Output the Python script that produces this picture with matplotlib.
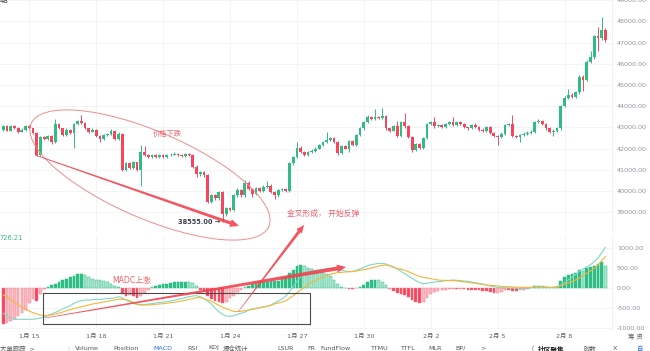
import matplotlib

matplotlib.use("Agg")
import matplotlib.pyplot as plt
import numpy as np
from matplotlib.patches import Ellipse, Polygon, Rectangle

plt.rcParams["font.family"] = ["DejaVu Sans", "Noto Sans CJK SC"]

# 4h candles, first one on Jan 13 20:00; x axis counts days from Jan 15 00:00
FIRST_DAY = -7 / 6
FIRST_OPEN = 42900
CLOSES = [
    43050, 42850, 43050, 42950, 42800, 42900, 43050, 42950, 42750, 41700,
    42550, 42450, 42600, 42300, 43150, 42950, 42650, 42900, 42750, 43150,
    43300, 43200, 42950, 42800, 42900, 42600, 42450, 42650, 42700, 42850,
    42450, 42700, 41000, 41300, 41100, 41350, 41000, 41850, 41700, 41600,
    41700, 41620, 41680, 41600, 41680, 41720, 41760, 41700, 41660, 41730,
    41700, 41150, 40800, 40900, 40750, 39500, 39800, 39650, 39950, 38900,
    39200, 39100, 39800, 40050, 39800, 40400, 40100, 39850, 40150, 40000,
    40200, 40250, 39950, 39800, 40050, 40100, 40000, 41300, 41600, 42050,
    41850, 41700, 41850, 41900, 42000, 42150, 42300, 42400, 42500, 42300,
    41800, 42100, 42000, 42350, 42150, 42650, 42950, 43250, 43500, 43400,
    43500, 43450, 43550, 42950, 42850, 43050, 42600, 43250, 43050, 42550,
    41950, 42200, 42050, 42500, 43150, 43250, 43050, 43100, 43000, 43150,
    43250, 43100, 43250, 43150, 43000, 42950, 43100, 43000, 42900, 42850,
    43000, 42750, 42600, 42550, 42700, 43100, 43150, 42600, 42550, 42650,
    42700, 42750, 42800, 43250, 43300, 43150, 42950, 42800, 42850, 42950,
    44000, 44400, 44550, 44450, 44650, 45400, 45250, 46100, 46300, 47300,
    47200, 47600, 47100,
]
UPPER_WICK = [
    60, 50, 80, 60, 50, 60, 70, 50, 40, 40,
    60, 50, 60, 50, 250, 60, 40, 60, 40, 50,
    50, 300, 40, 40, 50, 40, 40, 60, 50, 60,
    40, 60, 40, 50, 50, 60, 40, 300, 250, 60,
    60, 50, 60, 50, 60, 50, 80, 50, 40, 60,
    50, 40, 60, 60, 60, 40, 60, 60, 60, 40,
    60, 60, 60, 80, 60, 100, 60, 60, 60, 60,
    60, 200, 60, 40, 60, 60, 60, 60, 60, 250,
    60, 60, 60, 60, 60, 60, 60, 400, 60, 60,
    40, 60, 50, 60, 50, 60, 60, 60, 100, 60,
    350, 60, 350, 50, 60, 60, 250, 60, 450, 60,
    60, 60, 60, 60, 60, 60, 250, 50, 50, 50,
    60, 250, 50, 50, 50, 40, 50, 100, 50, 50,
    50, 50, 50, 50, 60, 60, 60, 450, 60, 60,
    60, 60, 60, 60, 100, 60, 60, 60, 60, 60,
    60, 60, 250, 60, 60, 60, 60, 60, 300, 60,
    450, 600, 100,
]
LOWER_WICK = [
    50, 40, 40, 40, 60, 40, 50, 40, 60, 60,
    40, 50, 40, 60, 50, 40, 60, 40, 50, 700,
    40, 40, 40, 50, 40, 60, 150, 40, 40, 40,
    60, 40, 60, 50, 60, 40, 60, 750, 50, 60,
    50, 60, 40, 50, 40, 40, 40, 40, 50, 40,
    40, 60, 150, 100, 80, 60, 80, 60, 60, 345,
    80, 60, 60, 60, 60, 60, 60, 150, 60, 60,
    50, 60, 60, 200, 60, 60, 60, 60, 60, 60,
    60, 60, 60, 40, 40, 40, 40, 40, 40, 40,
    100, 40, 40, 150, 50, 50, 50, 50, 50, 50,
    50, 40, 40, 60, 60, 40, 60, 40, 60, 60,
    100, 50, 60, 60, 50, 50, 60, 50, 50, 50,
    50, 50, 50, 50, 50, 50, 40, 50, 50, 50,
    50, 60, 60, 400, 60, 40, 40, 60, 60, 250,
    50, 50, 50, 50, 50, 50, 50, 60, 200, 60,
    60, 60, 60, 60, 60, 60, 550, 60, 60, 60,
    600, 60, 60,
]
MACD_HIST = [
    -900, -870, -830, -770, -700, -620, -540, -380, -280, -330,
    -150, -30, 30, 80, 110, 150, 190, 230, 270, 310,
    340, 360, 330, 270, 230, 210, 190, 170, 140, 100,
    50, 20, -150, -200, -180, -200, -260, -200, -130, -50,
    20, 50, 70, 100, 110, 130, 140, 150, 160, 160,
    150, 120, 40, -40, -80, -200, -280, -320, -340, -380,
    -340, -260, -200, -110, -40, 30, 60, 90, 120, 140,
    160, 160, 170, 170, 180, 220, 270, 380, 460, 540,
    570, 550, 510, 470, 430, 400, 370, 350, 290, 200,
    90, 30, 10, -20, -30, -10, 30, 80, 150, 190,
    200, 190, 150, 80, -20, -70, -120, -160, -170, -230,
    -300, -340, -380, -350, -260, -150, -100, -80, -50, -40,
    -30, -20, -20, -15, -30, -40, -40, -50, -60, -70,
    -80, -110, -130, -120, -90, -60, -60, -70, -80, -60,
    -40, -20, 10, 50, 60, 50, 20, 10, 10, 30,
    180, 280, 330, 340, 380, 440, 430, 490, 520, 560,
    600, 640, 560,
]
MACD_DIF = [
    -633, -692, -750, -783, -783, -783, -783, -783, -783, -767,
    -750, -733, -683, -650, -608, -567, -525, -483, -442, -383,
    -342, -317, -300, -300, -292, -283, -283, -275, -267, -258,
    -250, -217, -250, -300, -342, -383, -417, -425, -417, -400,
    -392, -375, -367, -350, -342, -325, -308, -283, -267, -242,
    -217, -200, -192, -217, -267, -325, -400, -508, -592, -658,
    -700, -708, -692, -658, -633, -600, -558, -525, -508, -492,
    -475, -458, -425, -375, -325, -275, -200, -92, 33, 158,
    283, 342, 383, 417, 442, 450, 458, 467, 492, 483,
    475, 450, 425, 408, 417, 442, 475, 517, 558, 583,
    600, 617, 617, 600, 558, 525, 475, 417, 358, 300,
    242, 183, 133, 108, 117, 133, 150, 158, 167, 183,
    192, 200, 192, 183, 175, 167, 150, 133, 117, 100,
    75, 50, 33, 17, 8, 8, 0, 0, -8, -8,
    -8, 0, 8, 25, 33, 33, 25, 17, 17, 33,
    75, 133, 200, 267, 342, 417, 475, 525, 583, 658,
    742, 883, 1017,
]
MACD_DEA = [
    -175, -233, -292, -358, -425, -475, -533, -575, -617, -650,
    -675, -692, -683, -675, -650, -625, -600, -567, -542, -517,
    -492, -467, -450, -425, -400, -383, -367, -350, -333, -317,
    -300, -283, -283, -292, -317, -358, -400, -417, -425, -425,
    -417, -408, -400, -392, -383, -367, -358, -342, -325, -308,
    -283, -267, -242, -242, -267, -300, -333, -383, -433, -483,
    -517, -550, -583, -592, -583, -567, -550, -533, -517, -492,
    -475, -458, -433, -400, -375, -350, -317, -258, -192, -117,
    -50, 17, 83, 142, 192, 233, 275, 308, 342, 367,
    383, 392, 400, 408, 408, 425, 442, 458, 475, 500,
    525, 550, 567, 575, 550, 517, 492, 467, 442, 408,
    367, 325, 292, 267, 250, 233, 217, 200, 192, 192,
    183, 183, 175, 167, 150, 142, 125, 117, 100, 92,
    75, 67, 58, 50, 42, 33, 33, 25, 25, 17,
    17, 17, 17, 17, 17, 17, 17, 17, 17, 25,
    58, 92, 125, 158, 200, 250, 308, 367, 425, 492,
    575, 683, 783,
]
TICK_LABELS = ["1月 15", "1月 18", "1月 21", "1月 24", "1月 27",
               "1月 30", "2月 2", "2月 5", "2月 8"]
PRICE_TICKS = list(range(39000, 49001, 1000))
MACD_TICKS = [-1000, -500, 0, 500, 1000]
LOW_LABEL = "38555.00 →"

UP = "#2ebd85"
DOWN = "#f6465d"
UP_LIGHT = "#aee6d1"
DOWN_LIGHT = "#f9bcc4"
MARK = "#f2434f"
GRID = "#f3f3f5"
AXIS_TEXT = "#8e929b"


def taper_arrow(ax, start, end, w0, w1, head_len, head_w, alpha=0.9):
    p0 = np.asarray(start, float)
    p1 = np.asarray(end, float)
    u = (p1 - p0) / np.hypot(*(p1 - p0))
    n = np.array([-u[1], u[0]])
    s = p1 - u * head_len
    pts = [p0 + n * w0 / 2, s + n * w1 / 2, s + n * head_w / 2, p1,
           s - n * head_w / 2, s - n * w1 / 2, p0 - n * w0 / 2]
    ax.add_patch(Polygon(pts, closed=True, fc=MARK, ec="none", alpha=alpha, zorder=5))


closes = np.array(CLOSES, float)
opens = np.array([FIRST_OPEN] + CLOSES[:-1], float)
highs = np.maximum(opens, closes) + np.array(UPPER_WICK)
lows = np.minimum(opens, closes) - np.array(LOWER_WICK)
days = FIRST_DAY + np.arange(len(closes)) / 6
rising = closes >= opens
colors = np.where(rising, UP, DOWN)

W, H = 650, 351
fig = plt.figure(figsize=(W / 100, H / 100), dpi=100)
fig.patch.set_facecolor("white")
ax = fig.add_axes([0, 1 - 232 / H, 612 / W, 232 / H])
ax2 = fig.add_axes([0, 1 - 330 / H, 612 / W, 94 / H], sharex=ax)

# price pane
ax.vlines(days, lows, highs, color=colors, lw=0.7, zorder=2)
ax.bar(days, np.maximum(np.abs(closes - opens), 20), bottom=np.minimum(opens, closes),
       width=0.125, color=colors, lw=0, zorder=3)
low_i = int(np.argmin(lows))
ax.text(days[low_i] - 0.12, lows[low_i], LOW_LABEL, ha="right", va="center",
        fontsize=4.8, color="#3a3f4a", fontweight="bold", zorder=4)
ax.set_ylim(38066, 49010)
ax.set_xlim(-1.314, 26.13)
ax.set_yticks(PRICE_TICKS, [f"{v:.2f}" for v in PRICE_TICKS])
ax.yaxis.tick_right()
ax.tick_params(axis="y", length=0, pad=3.5, labelsize=4.6, labelcolor=AXIS_TEXT)
ax.tick_params(axis="x", length=0, labelbottom=False)

# MACD pane
hist = np.array(MACD_HIST, float)
prev = np.concatenate([[0.0], hist[:-1]])
growing = np.abs(hist) >= np.abs(prev)
face = np.where(hist >= 0, np.where(growing, UP, UP_LIGHT), np.where(growing, DOWN, DOWN_LIGHT))
edge = np.where(hist >= 0, UP, "#f27a89")
ax2.bar(days, hist, width=0.12, color=face, edgecolor=edge, lw=0.35, zorder=2)
ax2.plot(days, MACD_DIF, color="#7fd8c6", lw=0.8, zorder=3)
ax2.plot(days, MACD_DEA, color="#f4b63a", lw=0.8, zorder=3)
ax2.set_ylim(-1050, 1300)
ax2.set_yticks(MACD_TICKS, [f"{v:.2f}" for v in MACD_TICKS])
ax2.yaxis.tick_right()
ax2.tick_params(axis="y", length=0, pad=3.5, labelsize=4.6, labelcolor=AXIS_TEXT)
ax2.set_xticks(np.arange(len(TICK_LABELS)) * 3, TICK_LABELS)
ax2.tick_params(axis="x", length=0, pad=3, labelsize=4.6, labelcolor="#5d6068")

for axis in (ax, ax2):
    axis.set_facecolor("white")
    axis.grid(color=GRID, lw=0.6, zorder=0)
    for side in ("top", "left", "bottom"):
        axis.spines[side].set_visible(False)
    axis.spines["right"].set_color("#eeeeee")
    axis.spines["right"].set_linewidth(0.6)

# hand-drawn annotations, in pixel coordinates
ov = fig.add_axes([0, 0, 1, 1], facecolor="none")
ov.set_xlim(0, W)
ov.set_ylim(H, 0)
ov.axis("off")

ov.add_patch(Ellipse((150, 175), 259, 87, angle=23.4, fill=False, ec="#f28b8b", lw=0.7))
taper_arrow(ov, (35, 155), (239, 226), 0.8, 3.2, 9, 8)
taper_arrow(ov, (45, 318), (346, 267), 0.6, 4.0, 9, 8)
taper_arrow(ov, (238, 312), (304, 225), 0.5, 3.0, 8, 7)
ov.add_patch(Rectangle((43, 293), 267, 31, fill=False, ec="#4a4a4a", lw=0.8))

ov.text(153, 133, "价格下跌", fontsize=5.2, color="#f0606a", va="center", ha="left")
ov.text(287, 213, "金叉形成， 开始反弹", fontsize=5.6, color="#f0606a", va="center", ha="left")
ov.text(112, 280, "MADC上涨", fontsize=5.6, color="#f0606a", va="center", ha="left")
ov.text(-1, 238, "726.21", fontsize=4.8, color=UP, va="center", ha="left")
ov.text(0, 4, "48", fontsize=5, color="#333333", va="bottom", ha="left")
ov.text(628, 337, "筹 资", fontsize=4.6, color="#5d6068", va="center", ha="left")

toolbar = [(0, "大单跟踪  >", "#555555"), (67, "|", "#cccccc"), (75, "Volume", "#555555"),
           (113, "Position", "#555555"), (153, "MACD", "#2f6fe0"), (187, "RSI", "#555555"),
           (208, "KDJ", "#555555"), (223, "爆仓统计", "#555555"), (277, "LSUR", "#555555"),
           (307, "FR", "#555555"), (320, "FundFlow", "#555555"), (370, "TTMU", "#555555"),
           (400, "TTFL", "#555555"), (428, "MLR", "#555555"), (455, "BP/", "#555555"),
           (480, ">", "#555555"), (527, "〈", "#555555"), (583, "时数", "#555555"),
           (613, "X", "#555555"), (637, "自", "#2f6fe0")]
for x, label, color in toolbar:
    ov.text(x, 345.5, label, fontsize=4.6, color=color, va="top", ha="left")
ov.text(538, 345.5, "社区聚焦", fontsize=4.8, color="#222222", va="top", ha="left",
        fontweight="bold")

fig.savefig("out.png", dpi=100)
